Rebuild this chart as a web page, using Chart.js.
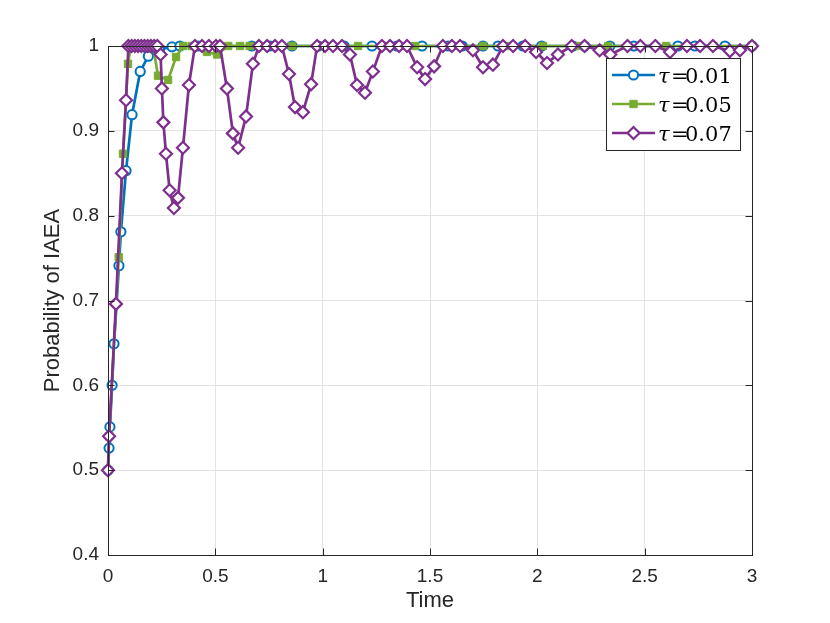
<!DOCTYPE html>
<html>
<head>
<meta charset="utf-8">
<script src="https://cdn.jsdelivr.net/npm/chart.js@4.4.0/dist/chart.umd.min.js"></script>
<style>
  html, body { margin: 0; padding: 0; background: #fff; }
  canvas { display: block; }
</style>
</head>
<body>
<canvas id="chart" width="830" height="623"></canvas>
<script>
// tau = 0.01
const timeTau01 = [0, 0.005, 0.009, 0.019, 0.028, 0.051, 0.06, 0.084, 0.112, 0.15, 0.188, 0.24, 0.298, 0.335,
  0.42, 0.67, 0.755, 0.857, 0.98, 1.1, 1.23, 1.346, 1.463, 1.584, 1.65, 1.747, 1.817, 1.933, 2.02,
  2.166, 2.22, 2.338, 2.45, 2.655, 2.734, 2.874, 3.0];
const probTau01 = [0.5, 0.526, 0.551, 0.6, 0.649, 0.741, 0.781, 0.853, 0.919, 0.97, 0.988, 0.996, 0.999, 1,
  1, 1, 1, 1, 1, 1, 1, 1, 1, 1, 1, 1, 1, 1, 1,
  1, 1, 1, 1, 1, 1, 1, 1];

// tau = 0.05
const timeTau05 = [0, 0.005, 0.05, 0.07, 0.093, 0.107, 0.13, 0.15, 0.17, 0.19, 0.21, 0.233, 0.28, 0.317,
  0.35, 0.39, 0.42, 0.461, 0.508, 0.56, 0.615, 0.66, 0.857, 1.0, 1.165, 1.3, 1.43, 1.6, 1.747, 1.858,
  2.026, 2.18, 2.33, 2.6, 2.82, 3.0];
const probTau05 = [0.5, 0.54, 0.751, 0.873, 0.979, 1, 1, 1, 1, 1, 1, 0.965, 0.96, 0.987,
  1, 1, 1, 0.993, 0.99, 1, 1, 1, 1, 1, 1, 1, 1, 1, 1, 1,
  1, 1, 1, 1, 1, 1];

// tau = 0.07
const timeTau07 = [0, 0.005, 0.037, 0.065, 0.084, 0.095, 0.11, 0.125, 0.14, 0.155, 0.17, 0.185, 0.2, 0.215, 0.23,
  0.245, 0.251, 0.258, 0.27, 0.287, 0.307, 0.326, 0.349, 0.377, 0.405, 0.438, 0.47, 0.503, 0.522,
  0.554, 0.582, 0.606, 0.643, 0.675, 0.703, 0.741, 0.778, 0.81, 0.843, 0.871, 0.908, 0.946, 0.974,
  1.011, 1.048, 1.09, 1.127, 1.16, 1.197, 1.234, 1.276, 1.314, 1.356, 1.393, 1.44, 1.477, 1.519,
  1.56, 1.602, 1.64, 1.7, 1.747, 1.793, 1.84, 1.887, 1.943, 1.994, 2.045, 2.096, 2.16, 2.22, 2.29,
  2.34, 2.42, 2.48, 2.55, 2.618, 2.697, 2.758, 2.818, 2.897, 2.944, 3.0];
const probTau07 = [0.5, 0.54, 0.696, 0.85, 0.936, 1, 1, 1, 1, 1, 1, 1, 1, 1, 1,
  0.99, 0.95, 0.91, 0.873, 0.83, 0.809, 0.821, 0.88, 0.954, 1, 1, 1, 1, 1,
  0.95, 0.897, 0.88, 0.917, 0.979, 1, 1, 1, 1, 0.967, 0.928, 0.922, 0.955, 1,
  1, 1, 1, 0.99, 0.954, 0.945, 0.97, 1, 1, 1, 1, 0.975, 0.961, 0.976,
  1, 1, 1, 0.995, 0.975, 0.978, 1, 1, 1, 0.993, 0.98, 0.99, 1, 1, 0.995,
  0.99, 1, 1, 1, 0.993, 1, 1, 1, 0.994, 0.995, 1];

const xTicks = [0, 0.5, 1, 1.5, 2, 2.5, 3];
const yTicks = [0.4, 0.5, 0.6, 0.7, 0.8, 0.9, 1];

const seriesNames = ['0.01', '0.05', '0.07'];
const seriesColors = ['#0072BD', '#77AC30', '#7E2F8E'];

const axisColor = '#262626';
const sansFont = '"Liberation Sans", Arial, Helvetica, sans-serif';
const serifFont = '"DejaVu Serif", "Liberation Serif", serif';
const lineW = 2.7;

function toPoints(xs, ys) {
  return xs.map((v, i) => ({ x: v, y: ys[i] }));
}

const markerStyles = [
  { pointStyle: 'circle', radius: 4.6, fill: '#ffffff', borderWidth: 2 },
  { pointStyle: 'rect', radius: 5.2, fill: seriesColors[1], borderWidth: 1 },
  { pointStyle: 'rectRot', radius: 6, fill: '#ffffff', borderWidth: 2.2 }
];

function drawMarker(ctx, idx, x, y) {
  const m = markerStyles[idx];
  ctx.save();
  ctx.beginPath();
  if (m.pointStyle === 'circle') {
    ctx.arc(x, y, m.radius, 0, Math.PI * 2);
  } else if (m.pointStyle === 'rect') {
    const s = m.radius * Math.SQRT1_2;
    ctx.rect(x - s, y - s, 2 * s, 2 * s);
  } else {
    ctx.moveTo(x - m.radius, y);
    ctx.lineTo(x, y - m.radius);
    ctx.lineTo(x + m.radius, y);
    ctx.lineTo(x, y + m.radius);
    ctx.closePath();
  }
  ctx.fillStyle = m.fill;
  ctx.fill();
  ctx.lineWidth = m.borderWidth;
  ctx.strokeStyle = seriesColors[idx];
  ctx.stroke();
  ctx.restore();
}

// box, inward ticks, axis titles and legend drawn like MATLAB
const matlabFrame = {
  id: 'matlabFrame',
  afterDraw(chart) {
    const { ctx, chartArea: a, scales } = chart;
    const sx = scales.x, sy = scales.y;
    ctx.save();
    ctx.strokeStyle = axisColor;
    ctx.lineWidth = 1;
    ctx.strokeRect(a.left + 0.5, a.top + 0.5, a.right - a.left, a.bottom - a.top);

    const tl = 6.5;
    ctx.beginPath();
    xTicks.forEach(v => {
      const px = Math.round(sx.getPixelForValue(v)) + 0.5;
      ctx.moveTo(px, a.bottom); ctx.lineTo(px, a.bottom - tl);
      ctx.moveTo(px, a.top); ctx.lineTo(px, a.top + tl);
    });
    yTicks.forEach(v => {
      const py = Math.round(sy.getPixelForValue(v)) + 0.5;
      ctx.moveTo(a.left, py); ctx.lineTo(a.left + tl, py);
      ctx.moveTo(a.right, py); ctx.lineTo(a.right - tl, py);
    });
    ctx.stroke();

    // axis titles
    ctx.fillStyle = axisColor;
    ctx.font = '22px ' + sansFont;
    ctx.textAlign = 'center';
    ctx.textBaseline = 'middle';
    ctx.fillText('Time', (a.left + a.right) / 2, 601);
    ctx.save();
    ctx.translate(53, (a.top + a.bottom) / 2);
    ctx.rotate(-Math.PI / 2);
    ctx.fillText('Probability of IAEA', 0, 0);
    ctx.restore();

    // legend
    const bx = 606, by = 58, bw = 134, bh = 92;
    ctx.fillStyle = '#ffffff';
    ctx.fillRect(bx, by, bw, bh);
    ctx.strokeStyle = axisColor;
    ctx.lineWidth = 1;
    ctx.strokeRect(bx + 0.5, by + 0.5, bw, bh);
    const rows = [75, 104, 133];
    ctx.textAlign = 'left';
    ctx.textBaseline = 'alphabetic';
    seriesNames.forEach((name, i) => {
      const ry = rows[i];
      ctx.strokeStyle = seriesColors[i];
      ctx.lineWidth = lineW;
      ctx.beginPath();
      ctx.moveTo(612, ry); ctx.lineTo(655, ry);
      ctx.stroke();
      drawMarker(ctx, i, 633.5, ry);
      ctx.fillStyle = '#000000';
      ctx.font = 'italic 21px ' + serifFont;
      ctx.fillText('\u03C4', 658, ry + 7.5);
      ctx.font = '21px ' + serifFont;
      ctx.fillText('=', 671, ry + 7.5);
      ctx.fillText(name, 685, ry + 7.5);
    });
    ctx.restore();
  }
};

const datasets = [
  { xs: timeTau01, ys: probTau01 },
  { xs: timeTau05, ys: probTau05 },
  { xs: timeTau07, ys: probTau07 }
].map((s, i) => ({
  label: '\u03C4=' + seriesNames[i],
  data: toPoints(s.xs, s.ys),
  showLine: true,
  tension: 0,
  borderColor: seriesColors[i],
  borderWidth: lineW,
  pointStyle: markerStyles[i].pointStyle,
  pointRadius: markerStyles[i].radius,
  pointBackgroundColor: markerStyles[i].fill,
  pointBorderColor: seriesColors[i],
  pointBorderWidth: markerStyles[i].borderWidth,
  clip: false,
  order: 3 - i
}));

new Chart(document.getElementById('chart'), {
  type: 'scatter',
  data: { datasets: datasets },
  options: {
    responsive: false,
    animation: false,
    devicePixelRatio: 1,
    layout: { padding: { left: 0, right: 78, top: 46, bottom: 0 } },
    plugins: {
      legend: { display: false },
      tooltip: { enabled: false }
    },
    scales: {
      x: {
        type: 'linear',
        min: 0,
        max: 3,
        afterBuildTicks: s => { s.ticks = xTicks.map(v => ({ value: v })); },
        afterFit: s => { s.height = 68; },
        grid: { color: '#e3e3e3', lineWidth: 1, drawTicks: false },
        border: { display: false },
        ticks: {
          padding: 10,
          color: axisColor,
          font: { family: sansFont, size: 19 },
          callback: v => String(v)
        }
      },
      y: {
        type: 'linear',
        min: 0.4,
        max: 1,
        afterBuildTicks: s => { s.ticks = yTicks.map(v => ({ value: v })); },
        afterFit: s => { s.width = 108; },
        grid: { color: '#e3e3e3', lineWidth: 1, drawTicks: false },
        border: { display: false },
        ticks: {
          padding: 9,
          color: axisColor,
          font: { family: sansFont, size: 19 },
          callback: v => String(v)
        }
      }
    }
  },
  plugins: [matlabFrame]
});
</script>
</body>
</html>
